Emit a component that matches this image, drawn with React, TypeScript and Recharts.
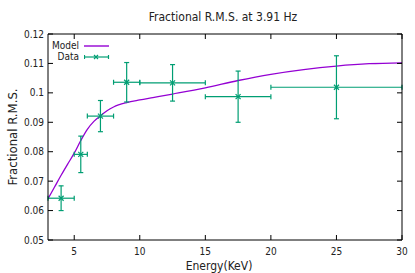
import { ComposedChart, Line, Scatter, ErrorBar, XAxis, YAxis, Legend, Label } from 'recharts'

// measured points (energy bin centre, half width, rms, rms error)
const energy = [4, 5.5, 7, 9, 12.5, 17.5, 25]
const energyErr = [1, 0.5, 1, 1, 2.5, 2.5, 5]
const rms = [0.0642, 0.0791, 0.0921, 0.1036, 0.1034, 0.0987, 0.1019]
const rmsErr = [0.0042, 0.0062, 0.0053, 0.0067, 0.0062, 0.0087, 0.0107]

// model curve
const modelEnergy = [3, 3.5, 4, 4.5, 5, 5.5, 6, 6.5, 7, 7.5, 8, 9, 10, 11, 12.5, 15, 17.5, 20, 22.5, 25, 27.5, 30]
const modelRms = [0.064, 0.068, 0.072, 0.0758, 0.0795, 0.0838, 0.0876, 0.0903, 0.0922, 0.0939, 0.0952, 0.0967, 0.0976, 0.0984, 0.0996, 0.1017, 0.1042, 0.1063, 0.1079, 0.1091, 0.1099, 0.1102]

const xTicks = [5, 10, 15, 20, 25, 30]
const yTicks = [0.05, 0.06, 0.07, 0.08, 0.09, 0.1, 0.11, 0.12]

const PURPLE = '#9400d3'
const GREEN = '#009e73'
const FONT = "'DejaVu Sans Condensed', 'DejaVu Sans', sans-serif"

const points = energy.map((e, i) => ({ energy: e, rms: rms[i], xErr: energyErr[i], yErr: rmsErr[i] }))
const model = modelEnergy.map((e, i) => ({ energy: e, rms: modelRms[i] }))

const fmtY = (v: number) => String(parseFloat(v.toFixed(2)))

const BottomTick = ({ x, y, payload }: any) => (
  <g>
    <line x1={x} y1={y} x2={x} y2={y - 5} stroke="#000" />
    <text x={x} y={y + 15} textAnchor="middle" fontSize={10} fill="#222" fontFamily={FONT}>{payload.value}</text>
  </g>
)
const TopTick = ({ x, y }: any) => <line x1={x} y1={y} x2={x} y2={y + 5} stroke="#000" />
const LeftTick = ({ x, y, payload }: any) => (
  <g>
    <line x1={x} y1={y} x2={x + 5} y2={y} stroke="#000" />
    <text x={x - 4} y={y + 3.5} textAnchor="end" fontSize={10} fill="#222" fontFamily={FONT}>{fmtY(payload.value)}</text>
  </g>
)
const RightTick = ({ x, y }: any) => <line x1={x} y1={y} x2={x - 5} y2={y} stroke="#000" />

const Cross = ({ cx, cy }: any) => (
  <path d={`M${cx - 2.5},${cy - 2.5}L${cx + 2.5},${cy + 2.5}M${cx - 2.5},${cy + 2.5}L${cx + 2.5},${cy - 2.5}`} stroke={GREEN} strokeWidth={1.2} fill="none" />
)

const LegendBox = () => (
  <div style={{ fontFamily: FONT, fontSize: 10, color: '#222', lineHeight: '10.5px' }}>
    <div style={{ display: 'flex', alignItems: 'center', height: 10.5 }}>
      <span style={{ width: 39, textAlign: 'right' }}>Model</span>
      <svg width={30} height={10} style={{ marginLeft: 5 }}>
        <line x1={0} y1={5} x2={25} y2={5} stroke={PURPLE} strokeWidth={1.4} />
      </svg>
    </div>
    <div style={{ display: 'flex', alignItems: 'center', height: 10.5 }}>
      <span style={{ width: 39, textAlign: 'right' }}>Data</span>
      <svg width={30} height={10} style={{ marginLeft: 5 }}>
        <line x1={0.5} y1={5} x2={24.5} y2={5} stroke={GREEN} strokeWidth={1.2} />
        <line x1={0.5} y1={3} x2={0.5} y2={7} stroke={GREEN} strokeWidth={1.2} />
        <line x1={24.5} y1={3} x2={24.5} y2={7} stroke={GREEN} strokeWidth={1.2} />
        <path d="M10,3L14,7M10,7L14,3" stroke={GREEN} strokeWidth={1.2} />
      </svg>
    </div>
  </div>
)

export default function App() {
  return (
    <div style={{ position: 'absolute', left: 0, top: 0, background: '#fff' }}>
      <ComposedChart width={415} height={273} margin={{ top: 33, right: 12, bottom: 0, left: 0 }}>
        <XAxis xAxisId="b" type="number" dataKey="energy" domain={[3, 30]} ticks={xTicks} allowDataOverflow
          height={33} tickSize={0} tickMargin={0} tick={<BottomTick />} axisLine={{ stroke: '#000' }} tickLine={false}>
          <Label value="Energy(KeV)" position="insideBottom" offset={3} dx={-6} fontSize={12} fill="#222" fontFamily={FONT} />
        </XAxis>
        <XAxis xAxisId="t" orientation="top" type="number" dataKey="energy" domain={[3, 30]} ticks={xTicks} allowDataOverflow
          height={1} tickSize={0} tickMargin={0} tick={<TopTick />} axisLine={{ stroke: '#000' }} tickLine={false}>
          <Label value="Fractional R.M.S. at 3.91 Hz" position="top" offset={12} dx={-2} fontSize={12} fill="#222" fontFamily={FONT} />
        </XAxis>
        <YAxis yAxisId="l" type="number" domain={[0.05, 0.12]} ticks={yTicks} allowDataOverflow
          width={48} tickSize={0} tickMargin={0} tick={<LeftTick />} axisLine={{ stroke: '#000' }} tickLine={false}>
          <Label value="Fractional R.M.S." angle={-90} position="insideLeft" offset={12} fontSize={13} fill="#222" fontFamily={FONT} style={{ textAnchor: 'middle' }} />
        </YAxis>
        <YAxis yAxisId="r" orientation="right" type="number" domain={[0.05, 0.12]} ticks={yTicks} allowDataOverflow
          width={1} tickSize={0} tickMargin={0} tick={<RightTick />} axisLine={{ stroke: '#000' }} tickLine={false} />
        <Legend layout="vertical" align="center" verticalAlign="middle" content={<LegendBox />}
          wrapperStyle={{ left: 40, top: 41, width: 80, height: 22 }} />
        <Line xAxisId="b" yAxisId="l" data={model} dataKey="rms" type="monotone" stroke={PURPLE} strokeWidth={1.3}
          dot={false} activeDot={false} isAnimationActive={false} legendType="none" />
        <Line xAxisId="t" yAxisId="r" data={model} dataKey="rms" stroke="none" dot={false} activeDot={false}
          isAnimationActive={false} legendType="none" />
        <Scatter xAxisId="b" yAxisId="l" data={points} dataKey="rms" fill={GREEN} shape={<Cross />} isAnimationActive={false}>
          <ErrorBar dataKey="xErr" direction="x" width={2.5} stroke={GREEN} strokeWidth={1.2} isAnimationActive={false} />
          <ErrorBar dataKey="yErr" direction="y" width={2.5} stroke={GREEN} strokeWidth={1.2} isAnimationActive={false} />
        </Scatter>
      </ComposedChart>
    </div>
  )
}
